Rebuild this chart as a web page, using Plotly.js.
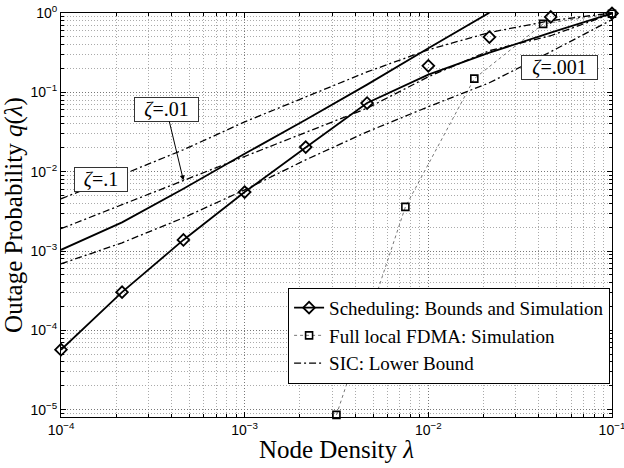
<!DOCTYPE html>
<html>
<head>
<meta charset="utf-8">
<script src="https://cdn.plot.ly/plotly-3.0.1.min.js"></script>
<style>html,body{margin:0;padding:0;background:#fff;}#chart{width:624px;height:468px;}</style>
</head>
<body>
<div id="chart"></div>
<script>
// Node density samples (x)
const densities = [1e-4, 2.15e-4, 4.64e-4, 1e-3, 2.15e-3, 4.64e-3, 1e-2, 2.15e-2, 4.64e-2, 1e-1];
// Scheduling: simulation (diamonds)
const schedSim = [5.7e-5, 3.03e-4, 1.38e-3, 5.53e-3, 0.0204, 0.0733, 0.216, 0.498, 0.891, 0.99];
// Scheduling: lower bound (solid)
const schedLower = [5.7e-5, 3.03e-4, 1.38e-3, 5.53e-3, 0.0202, 0.0733, 0.167, 0.316, 0.565, 0.99];
// Scheduling: upper bound (solid, leaves the top of the plot)
const schedUpperX = [1e-4, 2.15e-4, 4.64e-4, 1e-3, 2.15e-3, 4.64e-3, 1e-2, 2.15e-2];
const schedUpper = [1.035e-3, 2.3e-3, 6.08e-3, 0.0168, 0.0451, 0.125, 0.36, 1.01];
// SIC lower bounds for zeta = .1, .01, .001
const sicZeta1 = [4.55e-3, 9.14e-3, 0.0189, 0.0424, 0.0875, 0.181, 0.344, 0.568, 0.80, 1.0];
const sicZeta01 = [1.91e-3, 3.85e-3, 7.77e-3, 0.0157, 0.0312, 0.063, 0.157, 0.335, 0.517, 0.98];
const sicZeta001 = [6.9e-4, 1.27e-3, 2.62e-3, 5.9e-3, 0.0141, 0.0318, 0.0658, 0.132, 0.325, 0.824];
// Full local FDMA simulation
const fdmaX = [3.16e-3, 7.5e-3, 0.0178, 0.0422, 0.1];
const fdmaY = [8.6e-6, 3.6e-3, 0.149, 0.73, 0.98];
// Tick exponents
const xExps = [-4, -3, -2, -1];
const yExps = [-5, -4, -3, -2, -1, 0];
const legendNames = ['Scheduling: Bounds and Simulation', 'Full local FDMA: Simulation', 'SIC: Lower Bound'];

const SERIF = 'Liberation Serif';
const SANS = 'Liberation Sans';
const sicDash = '7px,3px,2px,3px';
const sicLine = {color: '#000', width: 1.3, dash: sicDash};

const traces = [
  {x: [null], y: [null], mode: 'lines+markers', name: legendNames[0], showlegend: true,
   line: {color: '#000', width: 1.8}, marker: {symbol: 'diamond-open', size: 9, color: '#000', line: {width: 1.8}}},
  {x: fdmaX, y: fdmaY, mode: 'lines+markers', name: legendNames[1],
   line: {color: '#777', width: 1, dash: 'dot'},
   marker: {symbol: 'square-open', size: 7, color: '#000', line: {width: 1.6}}, cliponaxis: false},
  {x: densities, y: sicZeta1, mode: 'lines', name: legendNames[2], line: sicLine},
  {x: densities, y: sicZeta01, mode: 'lines', showlegend: false, line: sicLine},
  {x: densities, y: sicZeta001, mode: 'lines', showlegend: false, line: sicLine},
  {x: schedUpperX, y: schedUpper, mode: 'lines', showlegend: false, line: {color: '#000', width: 1.8}},
  {x: densities, y: schedLower, mode: 'lines', showlegend: false, line: {color: '#000', width: 1.8}},
  {x: densities, y: schedSim, mode: 'markers', showlegend: false, cliponaxis: false,
   marker: {symbol: 'diamond-open', size: 9, color: '#000', line: {width: 1.8}}}
];

const lg = v => Math.log10(v);
const boxStyle = {font: {family: SERIF, size: 20, color: '#000'}, bgcolor: '#fff', bordercolor: '#333', borderwidth: 1, borderpad: 1, height: 21};
const supText = e => '10<sup>' + (e < 0 ? '\u2212' + (-e) : e) + '</sup>';

const axisCommon = {
  type: 'log', tickmode: 'array', ticklabeloverflow: 'allow',
  showline: true, linecolor: '#000', linewidth: 1, mirror: 'ticks', ticks: 'inside', ticklen: 5, tickcolor: '#000',
  showgrid: true, gridcolor: '#777', griddash: '1px,2px', gridwidth: 1, zeroline: false,
  minor: {dtick: 'D1', ticks: 'inside', ticklen: 3, tickcolor: '#000', showgrid: true, gridcolor: '#aaa', griddash: '1px,2px', gridwidth: 1},
  tickfont: {family: SANS, size: 14, color: '#000'}
};

const layout = {
  width: 624, height: 468,
  margin: {l: 61, r: 12, t: 13, b: 51},
  paper_bgcolor: '#fff', plot_bgcolor: '#fff',
  font: {family: SERIF, size: 19, color: '#000'},
  showlegend: true,
  legend: {x: 0.9965, xanchor: 'right', y: 0.201, yanchor: 'middle', bgcolor: '#fff', bordercolor: '#000', borderwidth: 1,
           font: {family: SERIF, size: 19, color: '#000'}, traceorder: 'normal'},
  xaxis: Object.assign({}, axisCommon, {range: [-4, -0.99995],
          tickvals: xExps.map(e => Math.pow(10, e)), ticktext: xExps.map(supText),
          title: {text: 'Node Density <i>\u03bb</i>', font: {family: SERIF, size: 25, color: '#000'}, standoff: 3}}),
  yaxis: Object.assign({}, axisCommon, {range: [-5.092, 0.00005],
          tickvals: yExps.map(e => Math.pow(10, e)), ticktext: yExps.map(supText),
          title: {text: 'Outage Probability <i>q</i>(<i>\u03bb</i>)', font: {family: SERIF, size: 25, color: '#000'}, standoff: 1}}),
  annotations: [
    Object.assign({x: -3.782, y: -2.102, xref: 'x', yref: 'y', text: '<i>\u03b6</i>=.1', showarrow: false, width: 50}, boxStyle),
    Object.assign({x: lg(densities[2]), y: lg(sicZeta01[2]), xref: 'x', yref: 'y', text: '<i>\u03b6</i>=.01', showarrow: true,
                   ax: -17, ay: -71, arrowhead: 2, arrowsize: 1, arrowwidth: 1, arrowcolor: '#000', width: 61}, boxStyle),
    Object.assign({x: -1.285, y: -0.69, xref: 'x', yref: 'y', text: '<i>\u03b6</i>=.001', showarrow: false, width: 73}, boxStyle)
  ]
};

Plotly.newPlot('chart', traces, layout, {staticPlot: true, displayModeBar: false});
</script>
</body>
</html>
